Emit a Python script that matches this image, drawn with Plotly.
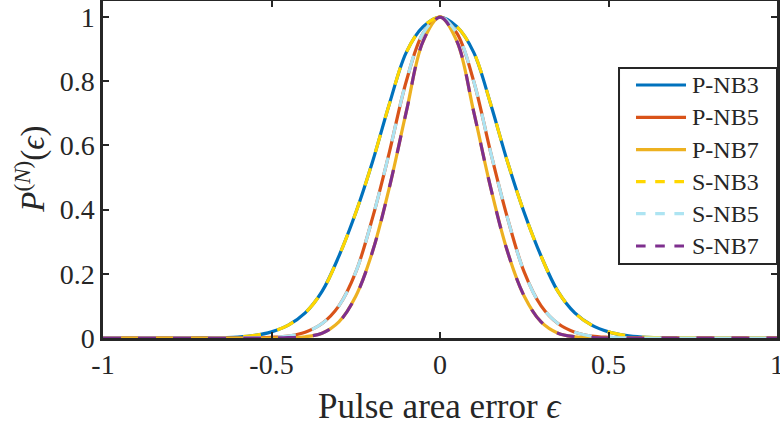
import plotly.graph_objects as go

# Pulse area error grid and transition probability profiles
eps = [-1.0, -0.9, -0.8, -0.7, -0.6, -0.55, -0.5, -0.45, -0.4, -0.35, -0.3, -0.25,
       -0.2, -0.15, -0.1, -0.05, 0.0, 0.05, 0.1, 0.15, 0.2, 0.25, 0.3, 0.35,
       0.4, 0.45, 0.5, 0.55, 0.6, 0.7, 0.8, 0.9, 1.0]

p_nb3 = [0, 0, 0, 0.0005, 0.003, 0.008, 0.019, 0.040, 0.078, 0.145, 0.255, 0.39,
         0.55, 0.73, 0.89, 0.97, 1.0, 0.97, 0.89, 0.73, 0.55, 0.39, 0.255, 0.145,
         0.078, 0.040, 0.019, 0.008, 0.003, 0.0005, 0, 0, 0]
p_nb5 = [0, 0, 0, 0, 0, 0.0005, 0.002, 0.006, 0.018, 0.045, 0.10, 0.205,
         0.375, 0.58, 0.80, 0.95, 1.0, 0.95, 0.80, 0.58, 0.375, 0.205, 0.10, 0.045,
         0.018, 0.006, 0.002, 0.0005, 0, 0, 0, 0, 0]
p_nb7 = [0, 0, 0, 0, 0, 0, 0, 0.001, 0.004, 0.015, 0.05, 0.13,
         0.27, 0.47, 0.705, 0.925, 1.0, 0.925, 0.705, 0.47, 0.27, 0.13, 0.05, 0.015,
         0.004, 0.001, 0, 0, 0, 0, 0, 0, 0]
s_nb3 = [0, 0, 0, 0.0005, 0.003, 0.008, 0.019, 0.040, 0.078, 0.145, 0.255, 0.39,
         0.55, 0.73, 0.89, 0.97, 1.0, 0.97, 0.89, 0.73, 0.55, 0.39, 0.255, 0.145,
         0.078, 0.040, 0.019, 0.008, 0.003, 0.0005, 0, 0, 0]
s_nb5 = [0, 0, 0, 0, 0, 0.0005, 0.002, 0.006, 0.018, 0.045, 0.10, 0.205,
         0.375, 0.58, 0.80, 0.95, 1.0, 0.95, 0.80, 0.58, 0.375, 0.205, 0.10, 0.045,
         0.018, 0.006, 0.002, 0.0005, 0, 0, 0, 0, 0]
s_nb7 = [0, 0, 0, 0, 0, 0, 0, 0.001, 0.004, 0.015, 0.05, 0.13,
         0.27, 0.47, 0.705, 0.925, 1.0, 0.925, 0.705, 0.47, 0.27, 0.13, 0.05, 0.015,
         0.004, 0.001, 0, 0, 0, 0, 0, 0, 0]

series_names = ["P-NB3", "P-NB5", "P-NB7", "S-NB3", "S-NB5", "S-NB7"]
x_ticks = [-1, -0.5, 0, 0.5, 1]
x_tick_text = ["-1", "-0.5", "0", "0.5", "1"]
y_ticks = [0, 0.2, 0.4, 0.6, 0.8, 1]
y_tick_text = ["0", "0.2", "0.4", "0.6", "0.8", "1"]

series = [p_nb3, p_nb5, p_nb7, s_nb3, s_nb5, s_nb7]
colors = ["#0072BD", "#D95319", "#EDB120", "#FFD700", "#ADE4F2", "#7E2F8E"]
dashes = ["solid", "solid", "solid", "18px,17px", "18px,17px", "18px,17px"]

FONT = "Liberation Serif"
INK = "#262626"

fig = go.Figure()
for name, ys, col, dash in zip(series_names, series, colors, dashes):
    fig.add_trace(go.Scatter(
        x=eps, y=ys, mode="lines", name=name,
        line=dict(color=col, width=3.2, dash=dash, shape="spline", smoothing=1.0),
        showlegend=False,
    ))

# Boxed legend in the right half of the axes
lg_x0, lg_x1 = 0.7656, 1.0
lg_y0, lg_y1 = 0.2196, 0.8012
row_y = [0.7507, 0.6549, 0.5588, 0.4638, 0.3689, 0.2730]
samp_x0, samp_x1, text_x = 0.7908, 0.8650, 0.8710

shapes = [dict(type="rect", xref="paper", yref="paper",
               x0=lg_x0, x1=lg_x1, y0=lg_y0, y1=lg_y1,
               line=dict(color=INK, width=2), fillcolor="white", layer="above")]
annotations = []
for name, col, dash, ry in zip(series_names, colors, dashes, row_y):
    shapes.append(dict(type="line", xref="paper", yref="paper",
                       x0=samp_x0, x1=samp_x1, y0=ry, y1=ry,
                       line=dict(color=col, width=3.2,
                                 dash="dash" if dash != "solid" else "solid"),
                       layer="above"))
    annotations.append(dict(xref="paper", yref="paper", x=text_x, y=ry,
                            xanchor="left", yanchor="middle", showarrow=False,
                            text=name, font=dict(family=FONT, size=24, color=INK)))

annotations.append(dict(xref="paper", yref="paper", x=-0.108, y=0.5,
                        xanchor="center", yanchor="middle", showarrow=False,
                        textangle=-90,
                        text="<i>P</i><sup>(<i>N</i>)</sup>(<i>ϵ</i>)",
                        font=dict(family=FONT, size=33, color=INK)))
annotations.append(dict(xref="paper", yref="paper", x=0.5, y=-0.2018,
                        xanchor="center", yanchor="middle", showarrow=False,
                        text="Pulse area error <i>ϵ</i>",
                        font=dict(family=FONT, size=35, color=INK)))

axis_common = dict(
    showgrid=False, zeroline=False, showline=True, linecolor=INK, linewidth=2.5,
    mirror="ticks", ticks="inside", ticklen=6, tickwidth=2, tickcolor=INK,
    tickfont=dict(family=FONT, size=28, color=INK), ticklabeloverflow="allow",
    automargin=False,
)

fig.update_layout(
    width=780, height=427,
    margin=dict(l=103, r=3, t=1, b=89, autoexpand=False),
    paper_bgcolor="white", plot_bgcolor="white",
    showlegend=False,
    xaxis=dict(range=[-1, 1], tickvals=x_ticks, ticktext=x_tick_text, **axis_common),
    yaxis=dict(range=[0, 1.05], tickvals=y_ticks, ticktext=y_tick_text,
               ticklabelstandoff=0, **axis_common),
    shapes=shapes,
    annotations=annotations,
)

fig.write_html("out.html")
